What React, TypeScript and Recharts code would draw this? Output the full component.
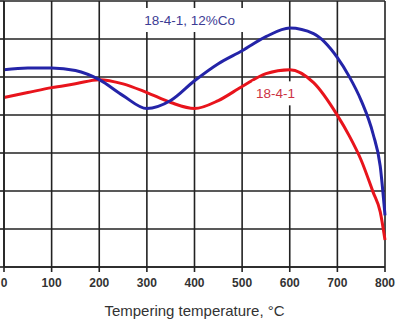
import React from "react";
import { LineChart, Line, XAxis, YAxis, CartesianGrid, ReferenceDot } from "recharts";

const temps = [0, 50, 100, 150, 200, 250, 300, 350, 400, 450, 500, 550, 600, 650, 700, 725, 750, 775, 790, 800];
const cobaltSteel = [5.19, 5.24, 5.24, 5.17, 4.93, 4.51, 4.17, 4.38, 4.9, 5.35, 5.69, 6.06, 6.29, 6.14, 5.51, 5.01, 4.38, 3.5, 2.65, 1.36];
const plainSteel = [4.46, 4.59, 4.72, 4.82, 4.93, 4.82, 4.59, 4.33, 4.17, 4.38, 4.75, 5.09, 5.19, 4.85, 3.99, 3.45, 2.81, 1.97, 1.45, 0.71];
const xTicks = [0, 100, 200, 300, 400, 500, 600, 700, 800];
const yTicks = [0, 1, 2, 3, 4, 5, 6, 7];

const data = temps.map((t, i) => ({ t, co: cobaltSteel[i], plain: plainSteel[i] }));

const boxLabel = (text: string, color: string, w: number) => (props: any) => {
  const { viewBox } = props;
  const cx = viewBox.x + (viewBox.width || 0) / 2;
  const cy = viewBox.y + (viewBox.height || 0) / 2;
  return (
    <g>
      <rect x={cx - w / 2} y={cy - 12} width={w} height={24} fill="#fff" />
      <text x={cx} y={cy} textAnchor="middle" dominantBaseline="central" fill={color}
        fontFamily="Liberation Sans, Arial, sans-serif" fontSize={13.5}>{text}</text>
    </g>
  );
};

export default function App() {
  return (
    <div style={{ position: "fixed", left: 0, top: 0, width: 399, height: 321, background: "#fff" }}>
      <LineChart width={399} height={321} data={data} margin={{ top: 1, right: 14, left: 0, bottom: 0 }}>
        <CartesianGrid stroke="#222" strokeWidth={1.6} />
        <XAxis dataKey="t" type="number" domain={[0, 800]} ticks={xTicks} interval={0}
          stroke="#222" strokeWidth={1.6} tickSize={5} height={54}
          tick={{ fill: "#333", fontSize: 12, fontWeight: "bold", fontFamily: "Liberation Sans, Arial, sans-serif", dy: 4 }}
          label={{ value: "Tempering temperature, °C", position: "insideBottom", offset: 5, fill: "#333", fontSize: 15, fontFamily: "Liberation Sans, Arial, sans-serif" }} />
        <YAxis type="number" domain={[0, 7]} ticks={yTicks} width={4} tickSize={4} stroke="#222" strokeWidth={1.6}
          tickFormatter={() => ""} />
        <Line type="monotone" dataKey="plain" stroke="#e8141c" strokeWidth={3} dot={false} isAnimationActive={false} />
        <Line type="monotone" dataKey="co" stroke="#2424a8" strokeWidth={3} dot={false} isAnimationActive={false} />
        <ReferenceDot x={390} y={6.5} r={0} stroke="none" fill="none" label={boxLabel("18-4-1, 12%Co", "#3c3c94", 112)} />
        <ReferenceDot x={570} y={4.57} r={0} stroke="none" fill="none" label={boxLabel("18-4-1", "#cc3344", 46)} />
      </LineChart>
    </div>
  );
}
